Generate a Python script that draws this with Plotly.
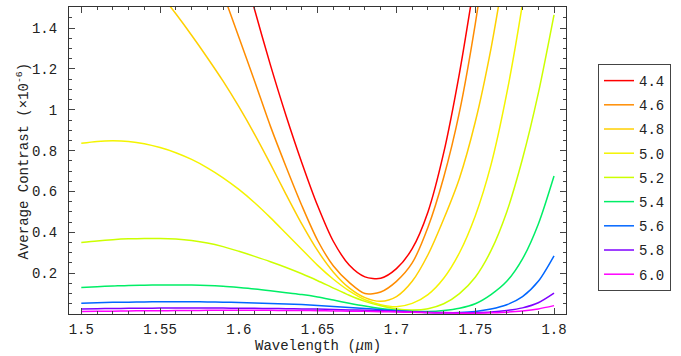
import plotly.graph_objects as go

# ---- data ----
grid = [round(1.50 + 0.01 * i, 2) for i in range(31)]  # 1.50 ... 1.80

lam_44 = [round(1.60 + 0.01 * i, 2) for i in range(17)]  # 1.60 ... 1.76
c_44 = [1.77, 1.49, 1.22, 0.97, 0.74, 0.53, 0.355, 0.24, 0.182, 0.175,
        0.222, 0.32, 0.50, 0.79, 1.18, 1.65, 2.15]

lam_46 = [round(1.58 + 0.01 * i, 2) for i in range(19)]  # 1.58 ... 1.76
c_46 = [1.79, 1.57, 1.355, 1.14, 0.92, 0.72, 0.53, 0.36, 0.235, 0.155,
        0.100, 0.108, 0.16, 0.25, 0.425, 0.67, 0.99, 1.42, 1.95]

lam_48 = [round(1.55 + 0.01 * i, 2) for i in range(23)]  # 1.55 ... 1.77
c_48 = [1.57, 1.47, 1.365, 1.255, 1.14, 1.015, 0.88, 0.735, 0.585, 0.44,
        0.31, 0.205, 0.128, 0.080, 0.062, 0.085, 0.16, 0.29, 0.465, 0.665,
        0.94, 1.30, 1.75]

lam_50 = grid[:30]  # 1.50 ... 1.79
c_50 = [0.836, 0.845, 0.848, 0.845, 0.834, 0.815, 0.790, 0.757, 0.716, 0.667,
        0.610, 0.545, 0.472, 0.394, 0.316, 0.238, 0.170, 0.113, 0.070, 0.046,
        0.036, 0.052, 0.095, 0.175, 0.30, 0.48, 0.73, 1.08, 1.52, 2.05]

c_52 = [0.350, 0.358, 0.364, 0.368, 0.370, 0.370, 0.367, 0.360, 0.348, 0.330,
        0.307, 0.282, 0.256, 0.228, 0.197, 0.163, 0.127, 0.092, 0.062, 0.040,
        0.025, 0.020, 0.026, 0.05, 0.10, 0.18, 0.31, 0.50, 0.76, 1.08, 1.465]

c_54 = [0.130, 0.134, 0.137, 0.140, 0.141, 0.142, 0.1425, 0.142, 0.140, 0.136,
        0.130, 0.123, 0.114, 0.104, 0.095, 0.083, 0.068, 0.053, 0.039, 0.027,
        0.018, 0.013, 0.012, 0.017, 0.028, 0.05, 0.095, 0.16, 0.27, 0.44, 0.676]

c_56 = [0.053, 0.055, 0.057, 0.058, 0.059, 0.060, 0.060, 0.060, 0.059, 0.058,
        0.056, 0.054, 0.052, 0.049, 0.046, 0.042, 0.037, 0.032, 0.027, 0.021,
        0.016, 0.011, 0.007, 0.006, 0.007, 0.012, 0.024, 0.045, 0.085, 0.16, 0.285]

c_58 = [0.025, 0.026, 0.027, 0.028, 0.028, 0.029, 0.029, 0.029, 0.029, 0.029,
        0.028, 0.028, 0.027, 0.026, 0.025, 0.024, 0.022, 0.020, 0.018, 0.016,
        0.014, 0.011, 0.009, 0.007, 0.006, 0.007, 0.010, 0.017, 0.030, 0.055, 0.102]

c_60 = [0.012, 0.013, 0.014, 0.015, 0.016, 0.016, 0.017, 0.017, 0.018, 0.018,
        0.018, 0.018, 0.018, 0.017, 0.017, 0.016, 0.015, 0.014, 0.013, 0.011,
        0.010, 0.008, 0.006, 0.005, 0.004, 0.004, 0.006, 0.009, 0.015, 0.025, 0.041]

labels = ["4.4", "4.6", "4.8", "5.0", "5.2", "5.4", "5.6", "5.8", "6.0"]
colors = ["#FF0000", "#FF8C00", "#FFD000", "#F4F400", "#CCFF00", "#00EE66",
          "#0066FF", "#7F00FF", "#FF00FF"]
series = [(lam_44, c_44), (lam_46, c_46), (lam_48, c_48), (lam_50, c_50),
          (grid, c_52), (grid, c_54), (grid, c_56), (grid, c_58), (grid, c_60)]

x_ticks = [1.5, 1.55, 1.6, 1.65, 1.7, 1.75, 1.8]
x_ticktext = ["1.5", "1.55", "1.6", "1.65", "1.7", "1.75", "1.8"]
y_ticks = [0.2, 0.4, 0.6, 0.8, 1.0, 1.2, 1.4]
y_ticktext = ["0.2", "0.4", "0.6", "0.8", "1", "1.2", "1.4"]

FONT = "Liberation Mono, Courier New, monospace"
TXT = "#222"
FS = 14

fig = go.Figure()
for (xs, ys), lab, col in zip(series, labels, colors):
    fig.add_trace(go.Scatter(x=xs, y=ys, mode="lines", name=lab,
                             legendgroup=lab,
                             line=dict(color=col, width=1.5, shape="spline",
                                       smoothing=0.8)))

axis_common = dict(ticks="inside", tickcolor="#444", tickwidth=1, ticklen=6,
                   mirror="allticks", showline=True, linecolor="#333",
                   linewidth=1, showgrid=False, zeroline=False,
                   tickfont=dict(family=FONT, size=FS, color=TXT))

fig.update_xaxes(range=[1.4922, 1.8076], tickmode="array", tickvals=x_ticks,
                 ticktext=x_ticktext, ticklabelstandoff=2,
                 minor=dict(tickmode="linear", tick0=1.5, dtick=0.01,
                            ticks="inside", ticklen=3, tickcolor="#444"),
                 **axis_common)
fig.update_yaxes(range=[0, 1.5034], tickmode="array", tickvals=y_ticks,
                 ticktext=y_ticktext, ticklabelstandoff=8,
                 minor=dict(tickmode="linear", tick0=0, dtick=0.05,
                            ticks="inside", ticklen=3, tickcolor="#444"),
                 **axis_common)

# axis titles as annotations (placed to match the reference)
fig.add_annotation(text="Wavelength (<i>μ</i>m)", xref="paper", yref="paper",
                   x=0.5, y=-0.103, xanchor="center", yanchor="middle",
                   showarrow=False, font=dict(family=FONT, size=FS, color=TXT))
fig.add_annotation(text="Average Contrast (×10<sup>-6</sup>)", xref="paper",
                   yref="paper", x=-0.0926, y=0.5, xanchor="center",
                   yanchor="middle", textangle=-90, showarrow=False,
                   font=dict(family=FONT, size=FS, color=TXT))

fig.update_layout(
    width=681, height=356,
    margin=dict(l=69, r=115, t=7, b=42, autoexpand=False),
    paper_bgcolor="white", plot_bgcolor="white",
    font=dict(family=FONT, size=FS, color=TXT),
    showlegend=True,
    legend=dict(x=1.0644, y=0.8143, xanchor="left", yanchor="top",
                bordercolor="#444", borderwidth=1, bgcolor="white",
                tracegroupgap=3, font=dict(family=FONT, size=FS, color=TXT)),
)

fig.write_html("out.html")
